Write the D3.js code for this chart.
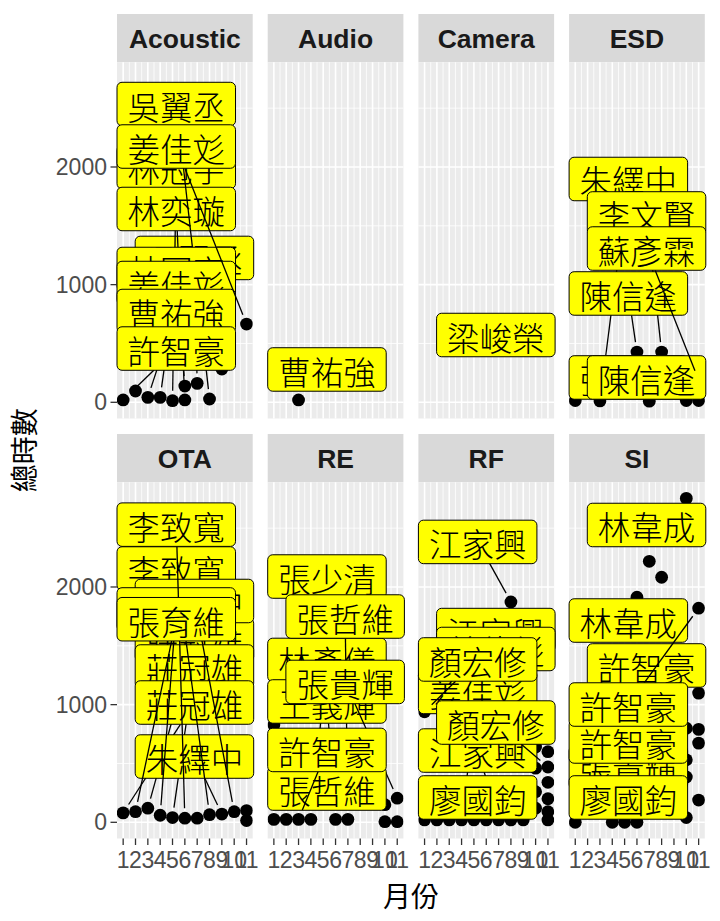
<!DOCTYPE html>
<html><head><meta charset="utf-8">
<script src="https://cdn.jsdelivr.net/npm/d3@7"></script>
<style>body{margin:0;background:#fff}</style>
</head><body>
<svg id="c" width="720" height="921"></svg>
<script>
// ---------- data ----------
const facets = ["Acoustic","Audio","Camera","ESD","OTA","RE","RF","SI"];
const monthBreaks = [1,2,3,4,5,6,7,8,9,10,11];
const monthLabels = ["1","2","3","4","5","6","7","8","9","10","11"];
const hourBreaks = [0,1000,2000];
const hourMinor = [500,1500,2500];
const xTitle = "月份";
const yTitle = "總時數";

// points: [month, hours]
const ptsAcoustic = [[1,20],[2,96],[3,42],[4,42],[5,14],[6,20],[6,138],[7,161],[8,28],[9,283],[11,665]];
const ptsAudio = [[3,20]];
const ptsCamera = [[7,570]];
const ptsESD = [[1,15],[3,12],[6,427],[7,10],[8,427],[10,15],[11,15],[11,190]];
const ptsOTA = [[1,80],[2,90],[3,120],[4,60],[5,40],[6,35],[7,35],[8,65],[9,70],[10,90],[11,100],[11,15]];
const ptsRE = [[1,25],[2,25],[3,25],[4,25],[6,25],[7,25],[10,5],[11,5],[11,205],[10,150],[1,826]];
const ptsRF = [[1,20],[2,20],[3,20],[4,20],[5,20],[6,20],[7,20],[8,20],[9,20],[8,1873],[10,640],[10,460],[10,260],[10,120],[11,600],[11,470],[11,340],[11,200],[11,90],[11,20],[1,939]];
const ptsSI = [[10,2753],[7,2218],[8,2083],[6,1913],[11,1820],[11,1098],[11,790],[11,673],[10,800],[10,531],[10,385],[11,189],[10,40],[1,0],[4,0],[5,0],[6,0]];

// repelled labels (drawing order): [name, point index, label month, label hours]
const labAcoustic = [["吳翼丞",7,6.86,1227],["林冠宇",4,5.24,2000],["林奕璇",5,5.24,1643],["吳翼丞",8,5.24,2535],["林冠宇",6,5.24,1133],["姜佳彣",3,5.24,1014],["曹祐強",2,5.24,776],["許智豪",0,5.24,457],["姜佳彣",10,5.24,2174]];
const labAudio = [["曹祐強",0,5.27,279]];
const labCamera = [["梁峻榮",0,6.84,572]];
const labESD = [["朱繹中",1,5.24,1898],["李文賢",4,6.86,1605],["陳信逢",2,5.24,925],["張哲維",0,5.24,211],["陳信逢",5,6.86,211],["蘇彥霖",7,6.86,1307]];
const labOTA = [["莊冠雄",2,6.86,1550],["莊冠雄",4,6.86,1324],["莊冠雄",0,6.86,1018],["朱繹中",8,6.86,559],["李致寬",7,5.24,2157],["朱繹中",9,6.86,1881],["莊冠雄",3,5.24,1809],["李致寬",5,5.24,2530],["張育維",1,5.24,1726]];
const labRE = [["張少清",10,5.27,2089],["林彥儀",3,5.27,1380],["張哲維",5,6.89,1749],["王義輝",4,5.27,1027],["張貴輝",8,6.89,1193],["張哲維",1,5.27,287],["許智豪",2,5.27,615]];
const labRF = [["江家興",9,5.24,2383],["江家興",10,6.86,1634],["姜佳彣",14,6.86,1473],["姜佳彣",3,5.24,1108],["顏宏修",20,5.24,1384],["江家興",6,5.24,610],["顏宏修",15,6.86,848],["廖國鈞",0,5.24,211]];
const labSI = [["林韋成",0,6.86,2527],["林韋成",3,5.24,1715],["許智豪",5,6.86,1333],["張貴輝",9,5.24,466],["許智豪",8,5.24,687],["許智豪",4,5.24,1001],["廖國鈞",12,5.24,211]];

const facetData = {
  Acoustic:{pts:ptsAcoustic,labs:labAcoustic}, Audio:{pts:ptsAudio,labs:labAudio},
  Camera:{pts:ptsCamera,labs:labCamera}, ESD:{pts:ptsESD,labs:labESD},
  OTA:{pts:ptsOTA,labs:labOTA}, RE:{pts:ptsRE,labs:labRE},
  RF:{pts:ptsRF,labs:labRF}, SI:{pts:ptsSI,labs:labSI}
};

// ---------- layout ----------
const svg = d3.select("#c");
const left0 = 117, panelW = 135.7, colGap = 15;
const stripTops = [14, 434], stripH = 48.2, panelH = 356.3;
const ptR = 6.4;
const labFont = 32.5, padX = 10.5, boxH = 43.5;
const cjk = "'Noto Sans CJK TC','Noto Sans CJK SC',sans-serif";
const latin = "'Liberation Sans',Arial,sans-serif";

const allHours = facets.flatMap(f => facetData[f].pts.map(p => p[1]));
const hMin = d3.min(allHours), hMax = d3.max(allHours), span = hMax - hMin;
const yDom = [hMin - 0.05*span, hMax + 0.05*span];

svg.append("rect").attr("width",720).attr("height",921).attr("fill","#fff");
const defs = svg.append("defs");

const meas = svg.append("text").attr("font-family",cjk).attr("font-size",labFont).attr("visibility","hidden");
function textW(s){ meas.text(s); return meas.node().getComputedTextLength(); }

facets.forEach((f, i) => {
  const col = i % 4, row = Math.floor(i / 4);
  const x0 = left0 + col*(panelW + colGap);
  const sTop = stripTops[row];
  const pTop = sTop + stripH;
  const x = d3.scaleLinear().domain([0.5, 11.5]).range([x0, x0 + panelW]);
  const y = d3.scaleLinear().domain(yDom).range([pTop + panelH, pTop]);
  const g = svg.append("g");

  // strip
  g.append("rect").attr("x",x0).attr("y",sTop).attr("width",panelW).attr("height",stripH).attr("fill","#D9D9D9");
  g.append("text").attr("x",x0+panelW/2).attr("y",sTop+stripH/2+1).attr("text-anchor","middle")
    .attr("dominant-baseline","central").attr("font-family",latin).attr("font-weight","bold")
    .attr("font-size",26.5).attr("fill","#1A1A1A").text(f);

  // panel
  g.append("rect").attr("x",x0).attr("y",pTop).attr("width",panelW).attr("height",panelH).attr("fill","#EBEBEB");
  const clipId = "clip"+i;
  defs.append("clipPath").attr("id",clipId).append("rect").attr("x",x0).attr("y",pTop).attr("width",panelW).attr("height",panelH);

  g.selectAll(".mx").data(monthBreaks.slice(0,-1).map(m=>m+0.5)).enter().append("line")
    .attr("x1",d=>x(d)).attr("x2",d=>x(d)).attr("y1",pTop).attr("y2",pTop+panelH).attr("stroke","#fff").attr("stroke-width",0.8);
  g.selectAll(".my").data(hourMinor).enter().append("line")
    .attr("x1",x0).attr("x2",x0+panelW).attr("y1",d=>y(d)).attr("y2",d=>y(d)).attr("stroke","#fff").attr("stroke-width",0.8);
  g.selectAll(".Mx").data(monthBreaks).enter().append("line")
    .attr("x1",d=>x(d)).attr("x2",d=>x(d)).attr("y1",pTop).attr("y2",pTop+panelH).attr("stroke","#fff").attr("stroke-width",1.6);
  g.selectAll(".My").data(hourBreaks).enter().append("line")
    .attr("x1",x0).attr("x2",x0+panelW).attr("y1",d=>y(d)).attr("y2",d=>y(d)).attr("stroke","#fff").attr("stroke-width",1.6);

  const pts = facetData[f].pts;
  g.append("g").attr("clip-path",`url(#${clipId})`).selectAll("circle").data(pts).enter().append("circle")
    .attr("cx",d=>x(d[0])).attr("cy",d=>y(d[1])).attr("r",ptR).attr("fill","#000");

  facetData[f].labs.forEach(l => {
    const [name, pi, lm, lh] = l;
    const tw = textW(name), bw = tw + 2*padX;
    let cx = x(lm), cy = y(lh);
    cx = Math.max(x0 + bw/2, Math.min(x0 + panelW - bw/2 + 1, cx));
    cy = Math.max(pTop + boxH/2, Math.min(pTop + panelH - boxH/2, cy));
    const px = x(pts[pi][0]), py = y(pts[pi][1]);
    const lg = g.append("g");
    const dx = px - cx, dy = py - cy;
    const inside = Math.abs(dx) <= bw/2 && Math.abs(dy) <= boxH/2;
    if (!inside) {
      const tx = dx === 0 ? Infinity : (bw/2)/Math.abs(dx);
      const ty = dy === 0 ? Infinity : (boxH/2)/Math.abs(dy);
      const t = Math.min(tx, ty);
      const sx = cx + t*dx, sy = cy + t*dy;
      const L = Math.hypot(dx, dy);
      const ex = px - dx/L*10, ey = py - dy/L*10;
      const segLen = Math.hypot(ex - sx, ey - sy);
      if (segLen > 8 && (ex - sx)*dx + (ey - sy)*dy > 0) {
        lg.append("line").attr("x1",sx).attr("y1",sy).attr("x2",ex).attr("y2",ey)
          .attr("stroke","#000").attr("stroke-width",1.3);
      }
    }
    lg.append("rect").attr("x",cx - bw/2).attr("y",cy - boxH/2).attr("width",bw).attr("height",boxH)
      .attr("rx",5).attr("ry",5).attr("fill","#FFFF00").attr("stroke","#000").attr("stroke-width",1);
    lg.append("text").attr("x",cx).attr("y",cy+1).attr("text-anchor","middle").attr("dominant-baseline","central")
      .attr("font-family",cjk).attr("font-weight",300).attr("font-size",labFont).attr("fill","#000").text(name);
  });

  if (col === 0) {
    const ya = g.append("g");
    hourBreaks.forEach(v => {
      ya.append("line").attr("x1",x0-6.5).attr("x2",x0).attr("y1",y(v)).attr("y2",y(v)).attr("stroke","#333").attr("stroke-width",1.3);
      ya.append("text").attr("x",x0-10).attr("y",y(v)).attr("text-anchor","end").attr("dominant-baseline","central")
        .attr("font-family",latin).attr("font-size",23).attr("fill","#4D4D4D").text(v);
    });
  }
  if (row === 1) {
    const xa = g.append("g");
    monthBreaks.forEach((m, k) => {
      xa.append("line").attr("x1",x(m)).attr("x2",x(m)).attr("y1",pTop+panelH).attr("y2",pTop+panelH+6.5).attr("stroke","#333").attr("stroke-width",1.3);
      xa.append("text").attr("x",x(m)).attr("y",pTop+panelH+29).attr("text-anchor","middle")
        .attr("font-family",latin).attr("font-size",23).attr("fill","#4D4D4D").text(monthLabels[k]);
    });
  }
});
meas.remove();

const panelsLeft = left0, panelsRight = left0 + 4*panelW + 3*colGap;
svg.append("text").attr("x",(panelsLeft+panelsRight)/2).attr("y",907).attr("text-anchor","middle")
  .attr("font-family",cjk).attr("font-size",28).attr("fill","#000").text(xTitle);
const yMid = (stripTops[0]+stripH + stripTops[1]+stripH+panelH)/2;
svg.append("text").attr("transform",`translate(23,${yMid}) rotate(-90)`).attr("text-anchor","middle")
  .attr("dominant-baseline","central")
  .attr("font-family",cjk).attr("font-size",28).attr("fill","#000").text(yTitle);
</script>
</body></html>
